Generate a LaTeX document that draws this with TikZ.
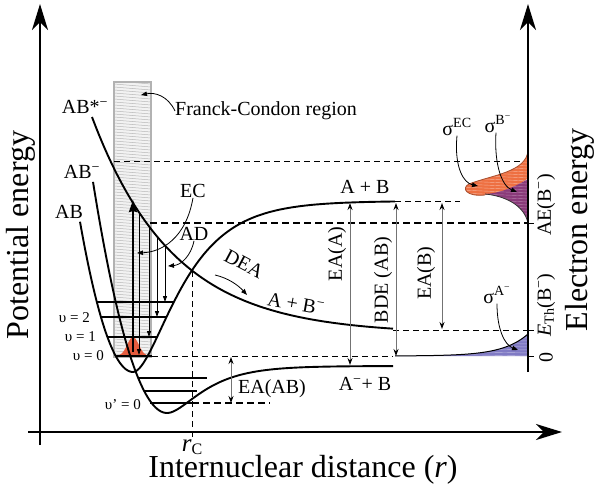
\documentclass[tikz,border=0pt]{standalone}
\usepackage{fontspec}
\setmainfont{Liberation Serif}
\usetikzlibrary{arrows.meta}
\definecolor{fcred}{RGB}{228,92,62}
\definecolor{ecorange}{RGB}{238,112,66}
\definecolor{bpurple}{RGB}{138,58,122}
\definecolor{apurple}{RGB}{128,122,196}
\begin{document}
\begin{tikzpicture}[x=1pt,y=-1pt,
  axisline/.style={line width=2.4pt,-{Stealth[length=26pt,width=16pt,inset=8pt]}},
  pot/.style={line width=1.9pt},
  lvl/.style={line width=1.3pt},
  thindash/.style={line width=0.9pt,dash pattern=on 6pt off 4pt},
  thickdash/.style={line width=2pt,dash pattern=on 7pt off 4pt},
  dbl/.style={line width=1pt,draw=black!55,{Stealth[length=7pt,width=5pt,color=black]}-{Stealth[length=7pt,width=5pt,color=black]}},
  ptr/.style={line width=0.8pt,-{Stealth[length=6pt,width=4.5pt,inset=0pt]}},
  adarrow/.style={line width=0.9pt,-{Stealth[length=6pt,width=4pt,inset=0pt]}},
  lab/.style={font=\fontsize{20}{24}\selectfont,inner sep=0pt},
  big/.style={font=\fontsize{32}{36}\selectfont,inner sep=0pt},
  sm/.style={font=\fontsize{15}{18}\selectfont,inner sep=0pt}]
\useasboundingbox (0,0) rectangle (600,487);
\fill[white] (0,0) rectangle (600,487);

% Franck-Condon region
\fill[gray!10] (114,82) rectangle (151,357);
\begin{scope}
  \clip (114,82) rectangle (151,357);
  \foreach \yy in {78,81,...,360} \draw[gray!55,line width=0.5pt] (114,\yy) -- (151,\yy+3);
\end{scope}
\draw[gray!60,line width=1.5pt] (114,82) rectangle (151,357);

% Gaussian at v=0
\fill[fcred] (115,356) -- plot[domain=115:151,samples=60] (\x,{356-19*exp(-((\x-133)*(\x-133))/64)}) -- cycle;

% dashed guide lines
\draw[thindash] (114,161) -- (528,161);
\draw[thindash] (395,201) -- (460,201);
\draw[thickdash] (150,223) -- (528,223);
\draw[thindash] (393,330) -- (528,330);
\draw[thindash] (152,356) -- (393,356);
\draw[thickdash] (192,403) -- (270,403);
\draw[thindash] (192,271) -- (192,439);

% electron energy distributions
\fill[apurple] (395,356) -- plot[domain=395:528,samples=60] (\x,{356-22*exp((\x-528)/25)}) -- (528,356) -- cycle;
\begin{scope}
  \clip (395,356) -- plot[domain=395:528,samples=60] (\x,{356-22*exp((\x-528)/25)}) -- (528,356) -- cycle;
  \foreach \yy in {330,333,...,360} \draw[white!45!apurple,line width=0.4pt] (430,\yy) -- (530,\yy+2);
\end{scope}
\draw[line width=1pt] plot[domain=395:528,samples=60] (\x,{356-22*exp((\x-528)/25)});

\fill[ecorange] (528,150) .. controls (527,172) and (492,175) .. (469,184)
   .. controls (461,188) and (466,197) .. (485,195)
   .. controls (505,193) and (520,185) .. (528,178) -- cycle;
\begin{scope}
  \clip (528,150) .. controls (527,172) and (492,175) .. (469,184)
   .. controls (461,188) and (466,197) .. (485,195)
   .. controls (505,193) and (520,185) .. (528,178) -- cycle;
  \foreach \yy in {148,151,...,200} \draw[white!45!ecorange,line width=0.4pt] (460,\yy) -- (530,\yy+3);
\end{scope}
\draw[ecorange!70!black,line width=0.8pt] (528,150) .. controls (527,172) and (492,175) .. (469,184)
   .. controls (461,188) and (466,197) .. (485,195);

\fill[bpurple] (485,194) .. controls (502,193) and (516,186) .. (528,179) -- (528,223)
   .. controls (524,205) and (505,196) .. (485,194) -- cycle;
\begin{scope}
  \clip (485,194) .. controls (502,193) and (516,186) .. (528,179) -- (528,223)
   .. controls (524,205) and (505,196) .. (485,194) -- cycle;
  \foreach \yy in {176,179,...,226} \draw[white!35!bpurple,line width=0.4pt] (480,\yy) -- (530,\yy+2);
\end{scope}
\draw[black!80,line width=0.8pt] (485,194) .. controls (505,196) and (524,205) .. (528,223);

% potential curves
\draw[pot] plot[domain=80:133,samples=40] (\x,{372-0.0535*(\x-133)*(\x-133)})
  -- plot[domain=133:395,samples=120] (\x,{372-171*(1-exp(-0.025*(\x-133)))*(1-exp(-0.025*(\x-133)))});
\draw[pot] plot[domain=93:167,samples=40] (\x,{413-0.0422*(\x-167)*(\x-167)})
  -- plot[domain=167:393,samples=120] (\x,{413-47*(1-exp(-0.0315*(\x-167)))*(1-exp(-0.0315*(\x-167)))});
\draw[pot] plot[domain=92:393,samples=120] (\x,{334-217*exp(-0.0123*(\x-92))});

% vibrational levels
\draw[lvl] (97,302) -- (173,302);
\draw[lvl] (101,317) -- (167,317);
\draw[lvl] (107,337) -- (158,337);
\draw[lvl] (115,356) -- (152,356);
\draw[lvl] (139,378) -- (207,378);
\draw[lvl] (144,391) -- (197,391);
\draw[lvl] (150,403) -- (192,403);

% EC and AD arrows
\coordinate (ecbot) at (133,352);
\coordinate (ectop) at (133,200);
\draw[line width=2.2pt,-{Stealth[length=12pt,width=8pt,inset=1pt]}] (ecbot) -- (ectop);
\draw[adarrow] (139,212) -- (139,355);
\draw[adarrow] (149,226) -- (149,337);
\draw[adarrow] (157,236) -- (157,317);
\draw[adarrow] (165,246) -- (165,302);

% double arrows
\draw[dbl] (350,203) -- (350,365);
\draw[dbl] (396,203) -- (396,356);
\draw[dbl] (442,203) -- (442,329);
\draw[dbl] (231,357) -- (231,403);

% axes
\draw[axisline] (40,445) -- (40,4);
\draw[axisline] (28,432) -- (562,432);
\draw[axisline] (528,372) -- (528,4);
\draw[line width=1pt] (528,223) -- (534,223);
\draw[line width=1pt] (528,330) -- (534,330);
\draw[line width=1pt] (528,356) -- (534,356);

% labels
\node[lab] (abstar) at (85,107) {AB*\textsuperscript{−}};
\node[lab] (abm) at (82,172) {AB\textsuperscript{−}};
\node[lab] (ab) at (69,212) {AB};
\node[lab,anchor=west] (fc) at (175,111) {Franck-Condon region};
\node[lab] (ec) at (193,191) {EC};
\node[lab] (ad) at (194,234) {AD};
\node[lab,rotate=-28] (dea) at (244,264) {DEA};
\node[lab,rotate=-10] (abm2) at (296,304) {A + B\textsuperscript{−}};
\node[lab] (apb) at (365,187) {A + B};
\node[lab] (amb) at (365,384) {A\textsuperscript{−}+ B};
\node[lab] (eaab) at (272,389) {EA(AB)};
\node[lab,rotate=90] (eaa) at (337,254) {EA(A)};
\node[lab,rotate=90] (bde) at (383,280) {BDE (AB)};
\node[lab,rotate=90] (eab) at (426,273) {EA(B)};
\node[lab,rotate=90] (ae) at (546,205) {AE(B\textsuperscript{−})};
\node[lab,rotate=90] (eth) at (546,305) {\textit{E}\textsubscript{Th}(B\textsuperscript{−})};
\node[lab,rotate=90] (zero) at (546,357) {0};
\node[lab] (sec) at (457,127) {σ\textsuperscript{EC}};
\node[lab] (sbm) at (498,124) {σ\textsuperscript{B\textsuperscript{−}}};
\node[lab] (sam) at (497,295) {σ\textsuperscript{A\textsuperscript{−}}};
\node[sm,anchor=east] (v2) at (90,318) {υ = 2};
\node[sm,anchor=east] (v1) at (96,337) {υ = 1};
\node[sm,anchor=east] (v0) at (104,356) {υ = 0};
\node[sm,anchor=east] (vp0) at (141,405) {υ’ = 0};
\node[big,rotate=90] (pe) at (21,235) {Potential energy};
\node[big,rotate=90] (ee) at (580,230) {Electron energy};
\node[big] (ind) at (303,470) {Internuclear distance (\textit{r})};
\node[inner sep=0pt] (rc) at (192,447) {\fontsize{25}{25}\selectfont\itshape r\fontsize{16}{16}\selectfont\upshape\raisebox{-3pt}{C}};

% pointer connectors
\coordinate (fctip) at (141,95);
\coordinate (ectip) at (137,253);
\coordinate (adtip) at (168,266);
\coordinate (dea1) at (215,275);
\coordinate (dea2) at (247,295);
\coordinate (sectip) at (478,186);
\coordinate (sbmtip) at (517,192);
\coordinate (samtip) at (518,350);
\draw[ptr] (fc.west) .. controls (168,96) and (155,92) .. (fctip);
\draw[ptr] (ec.south) .. controls (186,238) and (162,252) .. (ectip);
\draw[ptr] (ad.south) .. controls (191,256) and (181,265) .. (adtip);
\draw[ptr] (dea1) .. controls (228,278) and (238,285) .. (dea2);
\draw[ptr] (sec.south) .. controls (454,168) and (464,183) .. (sectip);
\draw[ptr] ([xshift=-2pt]sbm.south) .. controls (494,165) and (502,186) .. (sbmtip);
\draw[ptr] (sam.south) .. controls (497,330) and (505,345) .. (samtip);
\end{tikzpicture}
\end{document}
